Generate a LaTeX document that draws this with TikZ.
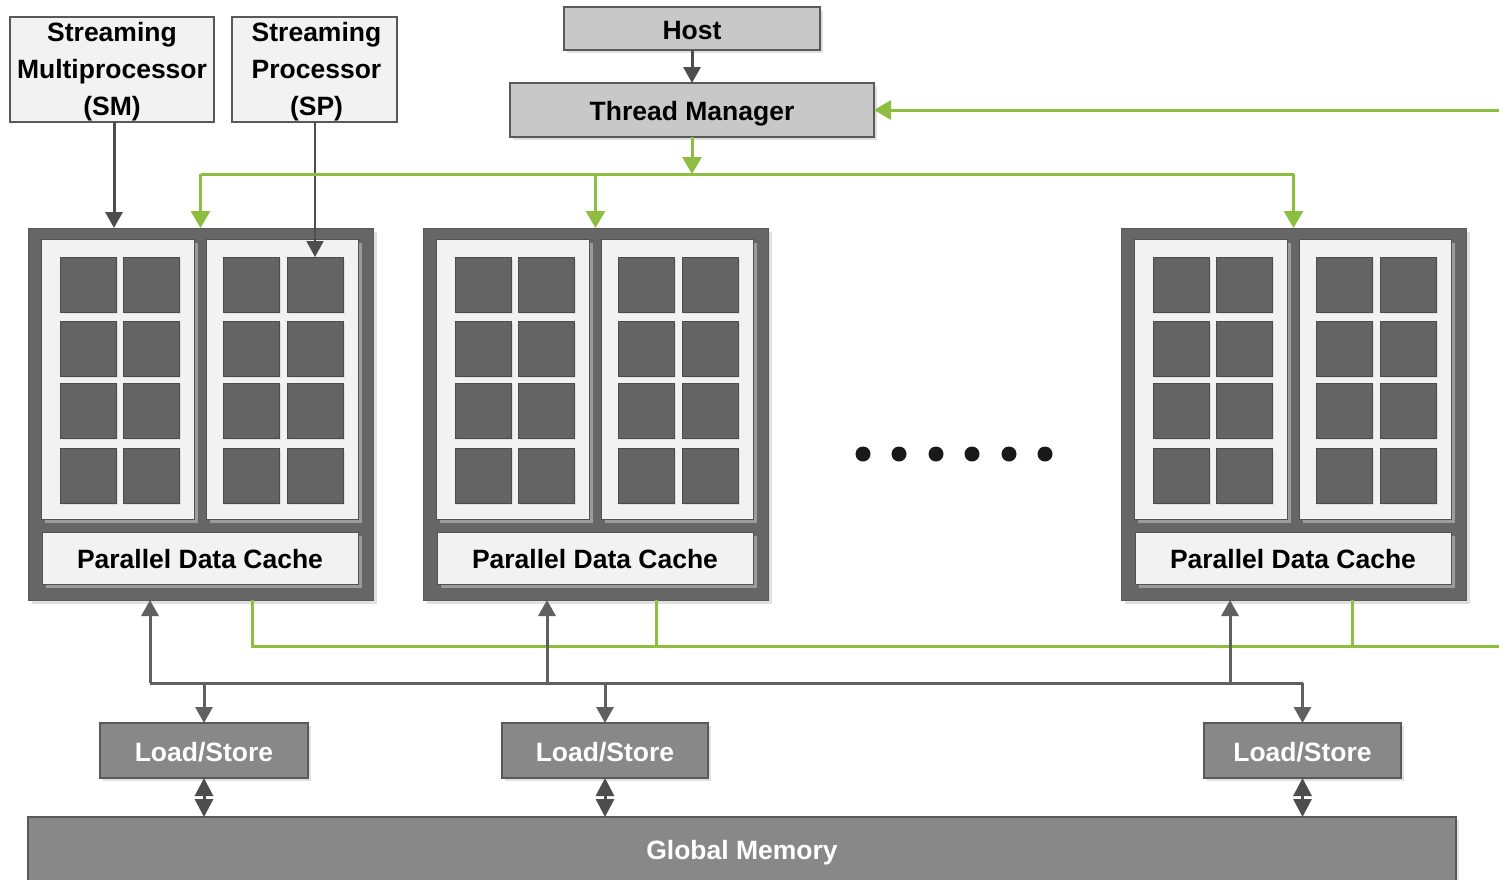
\documentclass[tikz,border=0pt]{standalone}
\usepackage{fontspec}
\setmainfont{Liberation Sans}
\usetikzlibrary{arrows.meta,shadows,calc}

\definecolor{frameg}{HTML}{666666}
\definecolor{panelg}{HTML}{F2F2F2}
\definecolor{coreg}{HTML}{646464}
\definecolor{edgeg}{HTML}{595959}
\definecolor{hostg}{HTML}{C8C8C8}
\definecolor{memg}{HTML}{888888}
\definecolor{linkg}{HTML}{8DBE3F}
\definecolor{wireg}{HTML}{606060}
\definecolor{tipg}{HTML}{4D4D4D}

\begin{document}
\begin{tikzpicture}[x=1pt,y=-1pt,
  txt/.style={font=\fontsize{26.5}{37}\selectfont\bfseries},
  line1/.style={txt, text height=22pt, text depth=1pt},
  base/.style={inner sep=0pt, outer sep=0pt, anchor=north west, align=center},
  labelbox/.style={base, draw=edgeg, line width=1.4pt, fill=panelg},
  hostbox/.style={base, line1, draw=edgeg, line width=1.4pt, fill=hostg,
    drop shadow={shadow xshift=3pt, shadow yshift=-3pt, fill=black, opacity=0.12}},
  membox/.style={base, line1, text=white, draw=edgeg, line width=1.4pt, fill=memg,
    drop shadow={shadow xshift=3pt, shadow yshift=-3pt, fill=black, opacity=0.12}},
  frame/.style={base, fill=frameg, draw=edgeg, line width=1pt,
    drop shadow={shadow xshift=4pt, shadow yshift=-4pt, fill=black, opacity=0.12}},
  panel/.style={base, fill=panelg, draw=frameg!80!black, line width=0.6pt,
    drop shadow={shadow xshift=4pt, shadow yshift=-4pt, fill=white, opacity=0.35}},
  core/.style={base, fill=coreg, draw=coreg!75!black, line width=0.8pt,
    minimum width=56pt, minimum height=55pt,
    drop shadow={shadow xshift=2pt, shadow yshift=-2pt, fill=black, opacity=0.08}},
  dot/.style={circle, fill=black!90, inner sep=0pt, minimum size=15pt},
  wire/.style={draw=wireg, line width=3pt},
  warr/.style={wire, -{Triangle[width=17pt,length=16pt]}},
  darr/.style={wire, draw=tipg, line width=3pt,
    {Triangle[width=18pt,length=18pt]}-{Triangle[width=18pt,length=18pt]}},
  gwire/.style={draw=linkg, line width=3pt},
  garr/.style={gwire, -{Triangle[width=19pt,length=17pt]}},
]
\clip (0,0) rectangle (1499,879);
\fill[white] (0,0) rectangle (1499,879);

% legend boxes
\node[labelbox, minimum width=204pt, minimum height=105pt,
  label={[txt, align=center, yshift=-2.5pt]center:{Streaming\\Multiprocessor\\(SM)}}]
  (sm) at (10,17) {};
\node[labelbox, minimum width=165pt, minimum height=105pt,
  label={[txt, align=center, yshift=-2.5pt, xshift=2pt]center:{Streaming\\Processor\\(SP)}}]
  (sp) at (232,17) {};

% host side
\node[hostbox, minimum width=256pt, minimum height=43pt] (host) at (564,7) {Host};
\node[hostbox, minimum width=364pt, minimum height=54pt] (tm) at (510,83) {Thread Manager};

% multiprocessor blocks
\foreach \i/\ox in {1/0,2/395,3/1093}{
  \node[frame, minimum width=345pt, minimum height=372pt] (blk\i) at (28+\ox,228) {};
  \node[panel, minimum width=153pt, minimum height=280pt] (pl\i) at (41+\ox,239) {};
  \node[panel, minimum width=152pt, minimum height=280pt] (pr\i) at (206+\ox,239) {};
  \node[panel, line1, minimum width=316pt, minimum height=52pt] (cache\i) at (42+\ox,532)
    {Parallel Data Cache};
  \foreach \r/\yy in {1/257,2/321,3/383,4/448}{
    \foreach \c/\xx in {1/60,2/123,3/223,4/287}{
      \node[core] (core\i-\r-\c) at (\xx+\ox,\yy) {};
    }
  }
}

% ellipsis between blocks
\foreach \k/\xx in {1/863,2/899,3/936,4/972,5/1009,6/1045}{
  \node[dot] (d\k) at (\xx,454) {};
}

% load/store units and global memory
\node[membox, minimum width=208pt, minimum height=55pt] (ls1) at (100,723) {Load/Store};
\node[membox, minimum width=206pt, minimum height=55pt] (ls2) at (502,723) {Load/Store};
\node[membox, minimum width=197pt, minimum height=55pt] (ls3) at (1204,723) {Load/Store};
\node[membox, minimum width=1428pt, minimum height=64pt] (gm) at (28,817) {Global Memory};

% legend pointers
\draw[warr, draw=tipg] (sm.south -| 114,0) -- (blk1.north -| 114,0);
\draw[warr, draw=tipg, line width=1.8pt] (core1-1-4.north |- sp.south) -- (core1-1-4.north);

% host to thread manager
\draw[warr, draw=tipg] (host.south) -- (tm.north);

% thread manager distribution bus
\coordinate (gbus) at (0,174);
\coordinate (gin) at (1499,110);
\draw[garr] (tm.south) -- (tm.south |- gbus);
\draw[gwire] (blk1.north |- gbus) -- (blk3.north |- gbus);
\foreach \i in {1,2,3}{
  \draw[garr] (blk\i.north |- gbus) -- (blk\i.north);
}
\draw[garr] (gin) -- (tm.east);

% feedback from the blocks
\coordinate (gout) at (1499,646);
\coordinate (gd1) at (252,600);
\coordinate (gd2) at (656,600);
\coordinate (gd3) at (1352,600);
\draw[gwire] (gd1) |- (gout);
\draw[gwire] (gd2) -- (gd2 |- gout);
\draw[gwire] (gd3) -- (gd3 |- gout);

% memory bus
\coordinate (up1) at (150,683);
\coordinate (up2) at (547,683);
\coordinate (up3) at (1230,683);
\draw[wire] (up1) -- (ls3.north |- up1);
\foreach \i in {1,2,3}{
  \draw[warr] (up\i) -- (up\i |- blk\i.south);
  \draw[warr] (ls\i.north |- up1) -- (ls\i.north);
  \draw[darr] (ls\i.south) -- (ls\i.south |- gm.north);
}
\end{tikzpicture}
\end{document}
